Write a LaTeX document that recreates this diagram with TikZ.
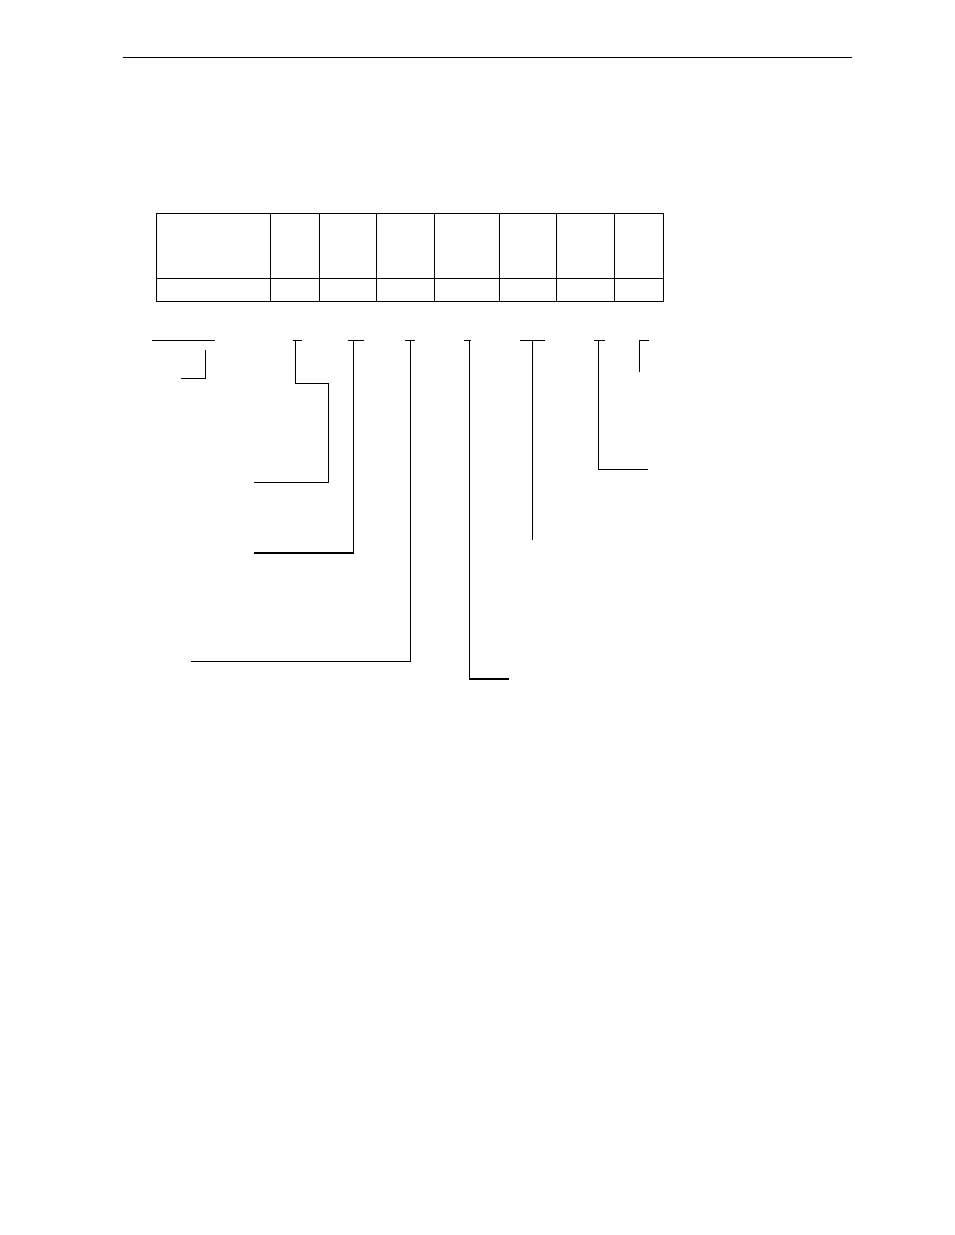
\documentclass[tikz,border=0pt]{standalone}
\begin{document}
\begin{tikzpicture}[x=1pt,y=-1pt,
  rule/.style={line width=1.3pt},
  cellline/.style={line width=1.1pt},
  lead/.style={line width=1.1pt},
  tick/.style={line width=1.1pt}]
\useasboundingbox (0,0) rectangle (954,1235);
% header rule
\coordinate (hl) at (122.5,57.3);
\coordinate (hr) at (852,57.3);
\draw[rule] (hl) -- (hr);
% table
\foreach \i/\x in {0/156.3,1/270.6,2/319.6,3/376.2,4/434.4,5/499.2,6/556.3,7/614.1,8/663.4}{
  \coordinate (t\i) at (\x,213.7);
  \coordinate (m\i) at (\x,278.7);
  \coordinate (b\i) at (\x,301.3);
}
\draw[cellline] (t0) rectangle (b8);
\draw[cellline] (m0) -- (m8);
\foreach \i in {1,...,7}{\draw[cellline] (t\i) -- (b\i);}
% field 1
\coordinate (u1a) at (152.3,340.3); \coordinate (u1b) at (215,340.3);
\draw[tick] (u1a) -- (u1b);
\coordinate (v1a) at (205.7,350); \coordinate (v1b) at (180.7,378.3);
\draw[lead] (v1a) |- (v1b);
% field 2
\coordinate (u2a) at (293,340.3); \coordinate (u2b) at (302,340.3);
\draw[tick] (u2a) -- (u2b);
\coordinate (v2a) at (295.3,340.3); \coordinate (v2k) at (328.7,383.3); \coordinate (v2e) at (254,482.7);
\draw[lead] (v2a) |- (v2k) |- (v2e);
% field 3
\coordinate (u3a) at (348,340.3); \coordinate (u3b) at (364,340.3);
\draw[tick] (u3a) -- (u3b);
\coordinate (v3a) at (353.3,340.3); \coordinate (v3e) at (254,553);
\draw[lead] (v3a) |- (v3e);
% field 4
\coordinate (u4a) at (405.3,340.3); \coordinate (u4b) at (414.7,340.3);
\draw[tick] (u4a) -- (u4b);
\coordinate (v4a) at (410.2,340.3); \coordinate (v4e) at (191,661.3);
\draw[lead] (v4a) |- (v4e);
% field 5
\coordinate (u5a) at (464,340.3); \coordinate (u5b) at (471,340.3);
\draw[tick] (u5a) -- (u5b);
\coordinate (v5a) at (469.3,340.3); \coordinate (v5e) at (509,679);
\draw[lead] (v5a) |- (v5e);
% field 6
\coordinate (u6a) at (520,340.3); \coordinate (u6b) at (544.7,340.3);
\draw[tick] (u6a) -- (u6b);
\coordinate (v6a) at (532.5,340.3); \coordinate (v6e) at (532.5,540);
\draw[lead] (v6a) -- (v6e);
% field 7
\coordinate (u7a) at (594,340.3); \coordinate (u7b) at (605,340.3);
\draw[tick] (u7a) -- (u7b);
\coordinate (v7a) at (598.5,340.3); \coordinate (v7e) at (647.7,469.3);
\draw[lead] (v7a) |- (v7e);
% field 8
\coordinate (u8a) at (639,340.3); \coordinate (u8b) at (648.7,340.3);
\draw[tick] (u8a) -- (u8b);
\coordinate (v8a) at (639.3,340.3); \coordinate (v8e) at (639.3,371.7);
\draw[lead] (v8a) -- (v8e);
\end{tikzpicture}
\end{document}
